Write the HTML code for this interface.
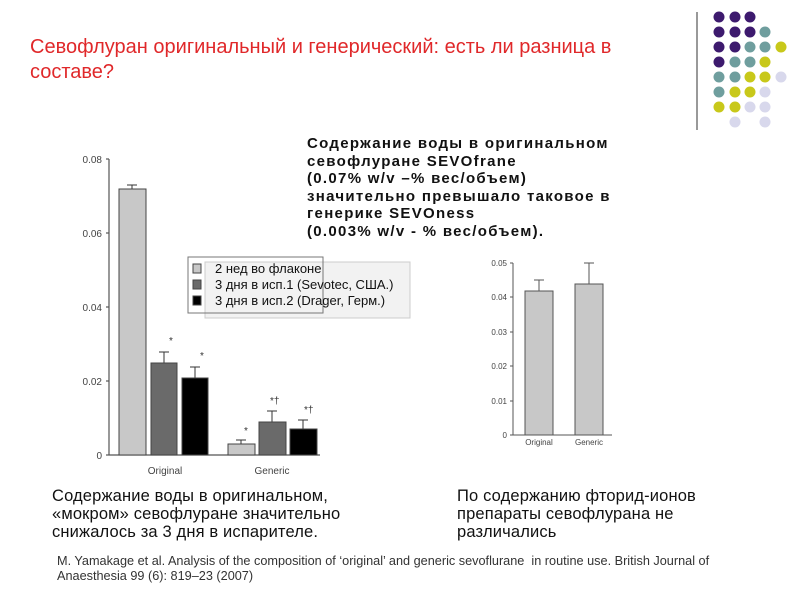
<!DOCTYPE html>
<html><head><meta charset="utf-8"><style>
body{margin:0;width:800px;height:600px;background:#fff;position:relative;overflow:hidden;font-family:"Liberation Sans","Noto Sans CJK SC",sans-serif}
.t{position:absolute;white-space:nowrap}
</style></head><body>
<div class="t" style="left:30px;top:35px;font-size:20px;line-height:25px;color:#e0282a">Севофлуран оригинальный и генерический: есть ли разница в<br>составе?</div>
<svg width="800" height="600" style="position:absolute;left:0;top:0" font-family="Liberation Sans, sans-serif">
<line x1="697" y1="12" x2="697" y2="130" stroke="#999" stroke-width="2"/>
<g>
<circle cx="719" cy="17" r="5.5" fill="#3d1a6e"/><circle cx="735" cy="17" r="5.5" fill="#3d1a6e"/><circle cx="750" cy="17" r="5.5" fill="#3d1a6e"/>
<circle cx="719" cy="32" r="5.5" fill="#3d1a6e"/><circle cx="735" cy="32" r="5.5" fill="#3d1a6e"/><circle cx="750" cy="32" r="5.5" fill="#3d1a6e"/><circle cx="765" cy="32" r="5.5" fill="#6f9e9e"/>
<circle cx="719" cy="47" r="5.5" fill="#3d1a6e"/><circle cx="735" cy="47" r="5.5" fill="#3d1a6e"/><circle cx="750" cy="47" r="5.5" fill="#6f9e9e"/><circle cx="765" cy="47" r="5.5" fill="#6f9e9e"/><circle cx="781" cy="47" r="5.5" fill="#c8c81a"/>
<circle cx="719" cy="62" r="5.5" fill="#3d1a6e"/><circle cx="735" cy="62" r="5.5" fill="#6f9e9e"/><circle cx="750" cy="62" r="5.5" fill="#6f9e9e"/><circle cx="765" cy="62" r="5.5" fill="#c8c81a"/>
<circle cx="719" cy="77" r="5.5" fill="#6f9e9e"/><circle cx="735" cy="77" r="5.5" fill="#6f9e9e"/><circle cx="750" cy="77" r="5.5" fill="#c8c81a"/><circle cx="765" cy="77" r="5.5" fill="#c8c81a"/><circle cx="781" cy="77" r="5.5" fill="#d8d8ec"/>
<circle cx="719" cy="92" r="5.5" fill="#6f9e9e"/><circle cx="735" cy="92" r="5.5" fill="#c8c81a"/><circle cx="750" cy="92" r="5.5" fill="#c8c81a"/><circle cx="765" cy="92" r="5.5" fill="#d8d8ec"/>
<circle cx="719" cy="107" r="5.5" fill="#c8c81a"/><circle cx="735" cy="107" r="5.5" fill="#c8c81a"/><circle cx="750" cy="107" r="5.5" fill="#d8d8ec"/><circle cx="765" cy="107" r="5.5" fill="#d8d8ec"/>
<circle cx="735" cy="122" r="5.5" fill="#d8d8ec"/><circle cx="765" cy="122" r="5.5" fill="#d8d8ec"/>
</g>
<g stroke="#555" stroke-width="1.2" fill="none">
<line x1="109" y1="159" x2="109" y2="455"/><line x1="109" y1="455" x2="320" y2="455"/>
<line x1="106" y1="159" x2="109" y2="159"/><line x1="106" y1="233" x2="109" y2="233"/><line x1="106" y1="307" x2="109" y2="307"/><line x1="106" y1="381" x2="109" y2="381"/><line x1="106" y1="455" x2="109" y2="455"/>
</g>
<g font-size="10" fill="#444" text-anchor="end">
<text x="102" y="163">0.08</text><text x="102" y="237">0.06</text><text x="102" y="311">0.04</text><text x="102" y="385">0.02</text><text x="102" y="459">0</text>
</g>
<g stroke="#333" stroke-width="1">
<line x1="132" y1="185" x2="132" y2="189"/><line x1="127" y1="185" x2="137" y2="185"/>
<line x1="164" y1="352" x2="164" y2="363"/><line x1="159" y1="352" x2="169" y2="352"/>
<line x1="195" y1="367" x2="195" y2="378"/><line x1="190" y1="367" x2="200" y2="367"/>
<line x1="241" y1="440" x2="241" y2="444"/><line x1="236" y1="440" x2="246" y2="440"/>
<line x1="272" y1="411" x2="272" y2="422"/><line x1="267" y1="411" x2="277" y2="411"/>
<line x1="303" y1="420" x2="303" y2="429"/><line x1="298" y1="420" x2="308" y2="420"/>
</g>
<g stroke="#444" stroke-width="1">
<rect x="119" y="189" width="27" height="266" fill="#c8c8c8"/>
<rect x="151" y="363" width="26" height="92" fill="#6a6a6a"/>
<rect x="182" y="378" width="26" height="77" fill="#000"/>
<rect x="228" y="444" width="27" height="11" fill="#c8c8c8"/>
<rect x="259" y="422" width="27" height="33" fill="#6a6a6a"/>
<rect x="290" y="429" width="27" height="26" fill="#000"/>
</g>
<g font-size="10" fill="#333">
<text x="169" y="344">*</text><text x="200" y="359">*</text><text x="244" y="434">*</text>
<text x="270" y="404">*†</text><text x="304" y="413">*†</text>
</g>
<g font-size="10" fill="#444" text-anchor="middle"><text x="165" y="474">Original</text><text x="272" y="474">Generic</text></g>
<rect x="205" y="262" width="205" height="56" fill="#f2f2f2" stroke="#ccc"/>
<rect x="188" y="257" width="135" height="56" fill="none" stroke="#777"/>
<rect x="193" y="264" width="8" height="9" fill="#c8c8c8" stroke="#444"/>
<rect x="193" y="280" width="8" height="9" fill="#6a6a6a" stroke="#444"/>
<rect x="193" y="296" width="8" height="9" fill="#000" stroke="#444"/>
<g font-size="13" fill="#111"><text x="215" y="273">2 нед во флаконе</text><text x="215" y="289">3 дня в исп.1 (Sevotec, США.)</text><text x="215" y="305">3 дня в исп.2 (Drager, Герм.)</text></g>
<g stroke="#555" stroke-width="1" fill="none">
<line x1="513" y1="263" x2="513" y2="435"/><line x1="513" y1="435" x2="612" y2="435"/>
<line x1="510" y1="263" x2="513" y2="263"/><line x1="510" y1="297" x2="513" y2="297"/><line x1="510" y1="332" x2="513" y2="332"/><line x1="510" y1="366" x2="513" y2="366"/><line x1="510" y1="401" x2="513" y2="401"/><line x1="510" y1="435" x2="513" y2="435"/>
<line x1="539" y1="280" x2="539" y2="291"/><line x1="534" y1="280" x2="544" y2="280"/>
<line x1="589" y1="263" x2="589" y2="284"/><line x1="584" y1="263" x2="594" y2="263"/>
</g>
<g stroke="#555" stroke-width="1"><rect x="525" y="291" width="28" height="144" fill="#c8c8c8"/><rect x="575" y="284" width="28" height="151" fill="#c8c8c8"/></g>
<g font-size="8" fill="#444" text-anchor="end">
<text x="507" y="266">0.05</text><text x="507" y="300">0.04</text><text x="507" y="335">0.03</text><text x="507" y="369">0.02</text><text x="507" y="404">0.01</text><text x="507" y="438">0</text>
</g>
<g font-size="8" fill="#444" text-anchor="middle"><text x="539" y="445">Original</text><text x="589" y="445">Generic</text></g>
</svg>
<div class="t" style="left:307px;top:135px;font-size:15px;line-height:17.5px;font-weight:bold;letter-spacing:1.3px;color:#111">Содержание воды в оригинальном<br>севофлуране SEVOfrane<br>(0.07% w/v –% вес/объем)<br>значительно превышало таковое в<br>генерике SEVOness<br>(0.003% w/v - % вес/объем).</div>
<div class="t" style="left:52px;top:487px;font-size:16.5px;line-height:18px;letter-spacing:0.15px;color:#111">Содержание воды в оригинальном,<br>«мокром» севофлуране значительно<br>снижалось за 3 дня в испарителе.</div>
<div class="t" style="left:457px;top:487px;font-size:16.5px;line-height:18px;letter-spacing:0.15px;color:#111">По содержанию фторид-ионов<br>препараты севофлурана не<br>различались</div>
<div class="t" style="left:57px;top:554px;font-size:12.7px;line-height:15px;color:#333">M. Yamakage et al. Analysis of the composition of ‘original’ and generic sevoflurane&nbsp; in routine use. British Journal of<br>Anaesthesia 99 (6): 819–23 (2007)</div>
</body></html>
